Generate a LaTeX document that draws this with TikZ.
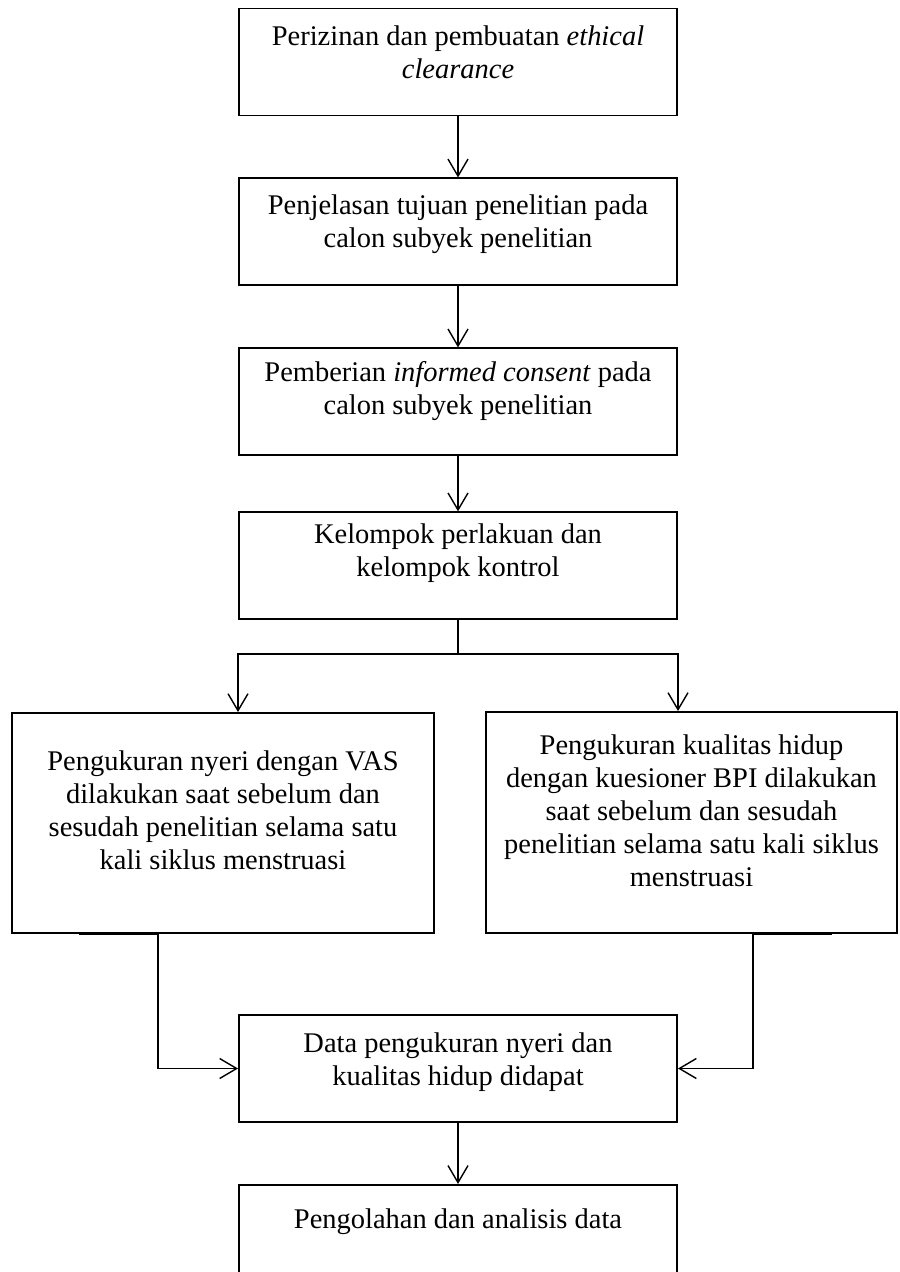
\documentclass[tikz,border=0pt]{standalone}
\usepackage{fontspec}
\setmainfont{Liberation Serif}
\usepackage{tikz}
\usetikzlibrary{arrows.meta, positioning, calc}
\newcommand{\flowfont}{\fontsize{16.2pt}{18.8pt}\selectfont}
\tikzset{
  flowbox/.style={rectangle, draw=black, line width=1.1pt, minimum width=8.76cm, minimum height=2.14cm, inner sep=0pt},
  flowtext/.style={align=center, inner sep=0pt, font=\flowfont},
  arrow/.style={-{Straight Barb[length=3.4mm, width=4mm]}, line width=0.8pt}
}

\begin{document}
\begin{tikzpicture}[node distance=1.22cm]
  \useasboundingbox (0,0) rectangle (17.98,-25.44);

  % Main chain
  \node[flowbox] (izin) at (9.16,-1.24) {};
  \node[flowbox, below=of izin] (tujuan) {};
  \node[flowbox, below=of tujuan] (consent) {};
  \node[flowbox, below=1.1cm of consent] (kelompok) {};

  % Measurement boxes
  \node[flowbox, minimum width=8.44cm, minimum height=4.4cm] (nyeri) at (4.46,-16.46) {};
  \node[flowbox, minimum width=8.22cm, minimum height=4.42cm] (kualitas) at (13.83,-16.45) {};

  % Data boxes
  \node[flowbox] (data) at (9.16,-21.37) {};
  \node[flowbox, below=of data] (olah) {};

  % Texts
  \node[flowtext, below=0.36cm of izin.north] (izin-t) {Perizinan dan pembuatan \textit{ethical}\\\textit{clearance}};
  \node[flowtext, below=0.34cm of tujuan.north] (tujuan-t) {Penjelasan tujuan penelitian pada\\calon subyek penelitian};
  \node[flowtext, below=0.28cm of consent.north] (consent-t) {Pemberian \textit{informed consent} pada\\calon subyek penelitian};
  \node[flowtext, below=0.24cm of kelompok.north] (kelompok-t) {Kelompok perlakuan dan\\kelompok kontrol};
  \node[flowtext, below=0.76cm of nyeri.north] (nyeri-t) {Pengukuran nyeri dengan VAS\\dilakukan saat sebelum dan\\sesudah penelitian selama satu\\kali siklus menstruasi};
  \node[flowtext, below=0.46cm of kualitas.north] (kualitas-t) {Pengukuran kualitas hidup\\dengan kuesioner BPI dilakukan\\saat sebelum dan sesudah\\penelitian selama satu kali siklus\\menstruasi};
  \node[flowtext, below=0.36cm of data.north] (data-t) {Data pengukuran nyeri dan\\kualitas hidup didapat};
  \node[flowtext, below=0.48cm of olah.north] (olah-t) {Pengolahan dan analisis data};

  % Connectors
  \draw[arrow] (izin) -- (tujuan);
  \draw[arrow] (tujuan) -- (consent);
  \draw[arrow] (consent) -- (kelompok);
  \coordinate (splitL) at (4.76,-13.08);
  \coordinate (splitR) at (13.56,-13.08);
  \draw[arrow] (kelompok.south) |- (splitL) -- (splitL |- nyeri.north);
  \draw[arrow] (kelompok.south) |- (splitR) -- (splitR |- kualitas.north);
  \coordinate (joinL) at (3.16,-18.69);
  \coordinate (joinR) at (15.06,-18.69);
  \draw[arrow] ([xshift=-1.58cm]joinL) -- (joinL) |- (data.west);
  \draw[arrow] ([xshift=1.58cm]joinR) -- (joinR) |- (data.east);
  \draw[arrow] (data) -- (olah);
\end{tikzpicture}
\end{document}
